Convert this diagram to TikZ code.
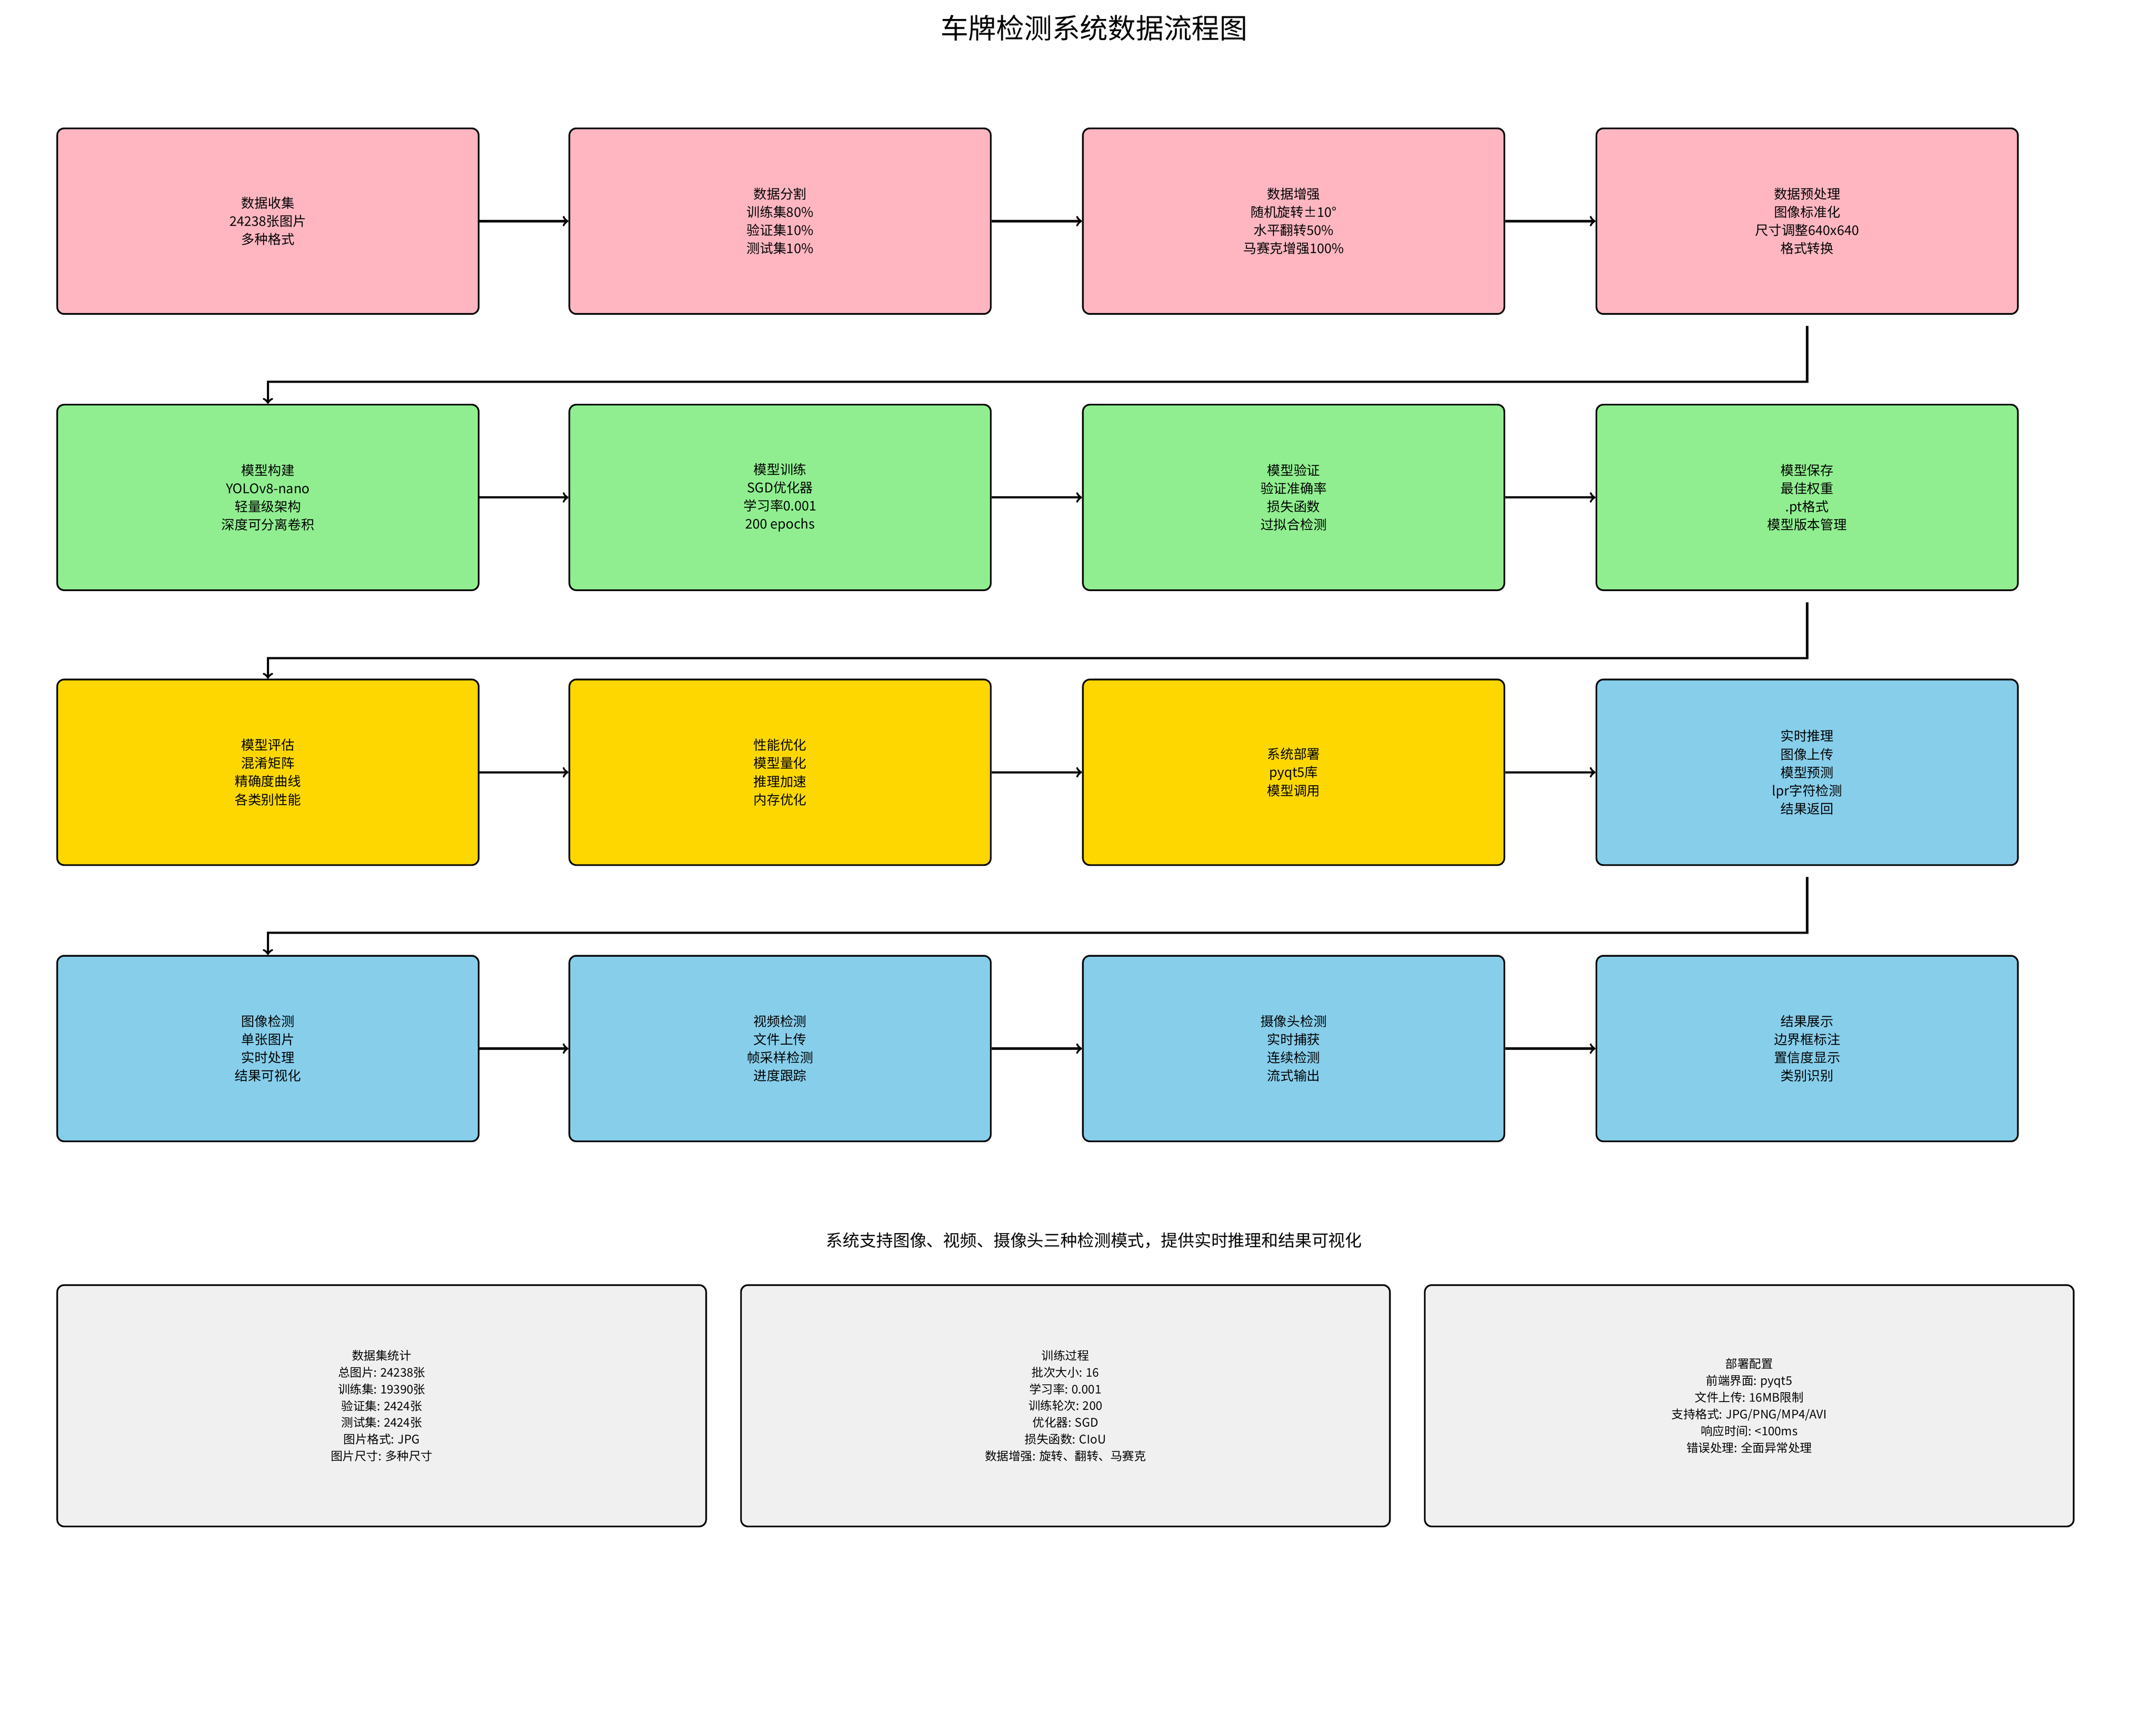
\documentclass[tikz,border=0pt]{standalone}
\usepackage{fontspec}
\setmainfont{Noto Sans CJK SC}
\usetikzlibrary{positioning}
\definecolor{dataPink}{HTML}{FFB6C1}
\definecolor{modelGreen}{HTML}{90EE90}
\definecolor{evalGold}{HTML}{FFD700}
\definecolor{runBlue}{HTML}{87CEEB}
\definecolor{infoGray}{HTML}{F0F0F0}
\tikzset{
  stepbox/.style={draw,line width=1.2pt,rounded corners=5pt,minimum width=302pt,minimum height=133pt,
    align=center,font=\fontsize{9.5}{13}\selectfont,inner sep=0pt},
  infobox/.style={draw,line width=1.2pt,rounded corners=5pt,minimum width=465pt,minimum height=173pt,
    align=center,font=\fontsize{8.5}{12}\selectfont,fill=infoGray,inner sep=0pt},
  flow/.style={->,line width=1.6pt}
}
\begin{document}
\begin{tikzpicture}[x=1pt,y=-1pt]
 \useasboundingbox (0,0) rectangle (1545,1234);
 \node[font=\fontsize{20}{24}\selectfont,name=title] at (784,20) {车牌检测系统数据流程图};

 \node[stepbox,fill=dataPink,  name=Collect ] at (192,158.5) {数据收集\\24238张图片\\多种格式};
 \node[stepbox,fill=dataPink,  name=Split   ] at (559,158.5) {数据分割\\训练集80\%\\验证集10\%\\测试集10\%};
 \node[stepbox,fill=dataPink,  name=Augment ] at (927,158.5) {数据增强\\随机旋转±10°\\水平翻转50\%\\马赛克增强100\%};
 \node[stepbox,fill=dataPink,  name=Prep    ] at (1295,158.5) {数据预处理\\图像标准化\\尺寸调整640x640\\格式转换};

 \node[stepbox,fill=modelGreen,name=Build   ] at (192,356.5) {模型构建\\YOLOv8-nano\\轻量级架构\\深度可分离卷积};
 \node[stepbox,fill=modelGreen,name=Train   ] at (559,356.5) {模型训练\\SGD优化器\\学习率0.001\\200 epochs};
 \node[stepbox,fill=modelGreen,name=Valid   ] at (927,356.5) {模型验证\\验证准确率\\损失函数\\过拟合检测};
 \node[stepbox,fill=modelGreen,name=Save    ] at (1295,356.5) {模型保存\\最佳权重\\.pt格式\\模型版本管理};

 \node[stepbox,fill=evalGold,  name=Eval    ] at (192,553.5) {模型评估\\混淆矩阵\\精确度曲线\\各类别性能};
 \node[stepbox,fill=evalGold,  name=Optim   ] at (559,553.5) {性能优化\\模型量化\\推理加速\\内存优化};
 \node[stepbox,fill=evalGold,  name=Deploy  ] at (927,553.5) {系统部署\\pyqt5库\\模型调用};
 \node[stepbox,fill=runBlue,   name=Infer   ] at (1295,553.5) {实时推理\\图像上传\\模型预测\\lpr字符检测\\结果返回};

 \node[stepbox,fill=runBlue,   name=ImgDet  ] at (192,751.5) {图像检测\\单张图片\\实时处理\\结果可视化};
 \node[stepbox,fill=runBlue,   name=VidDet  ] at (559,751.5) {视频检测\\文件上传\\帧采样检测\\进度跟踪};
 \node[stepbox,fill=runBlue,   name=CamDet  ] at (927,751.5) {摄像头检测\\实时捕获\\连续检测\\流式输出};
 \node[stepbox,fill=runBlue,   name=Show    ] at (1295,751.5) {结果展示\\边界框标注\\置信度显示\\类别识别};

 \draw[flow] (Collect) -- (Split);  \draw[flow] (Split) -- (Augment);  \draw[flow] (Augment) -- (Prep);
 \draw[flow] (Build)   -- (Train);  \draw[flow] (Train) -- (Valid);    \draw[flow] (Valid)   -- (Save);
 \draw[flow] (Eval)    -- (Optim);  \draw[flow] (Optim) -- (Deploy);   \draw[flow] (Deploy)  -- (Infer);
 \draw[flow] (ImgDet)  -- (VidDet); \draw[flow] (VidDet) -- (CamDet);  \draw[flow] (CamDet)  -- (Show);
 \draw[flow] ([yshift=-8pt]Prep.south)  -- ++(0,40) -| (Build.north);
 \draw[flow] ([yshift=-8pt]Save.south)  -- ++(0,40) -| (Eval.north);
 \draw[flow] ([yshift=-8pt]Infer.south) -- ++(0,40) -| (ImgDet.north);

 \node[font=\fontsize{12}{14}\selectfont,name=caption] at (784,889) {系统支持图像、视频、摄像头三种检测模式，提供实时推理和结果可视化};
 \node[infobox,name=DataStat ] at (273.5,1007.5) {数据集统计\\总图片: 24238张\\训练集: 19390张\\验证集: 2424张\\测试集: 2424张\\图片格式: JPG\\图片尺寸: 多种尺寸};
 \node[infobox,name=TrainProc] at (763.5,1007.5) {训练过程\\批次大小: 16\\学习率: 0.001\\训练轮次: 200\\优化器: SGD\\损失函数: CIoU\\数据增强: 旋转、翻转、马赛克};
 \node[infobox,name=DeployCfg] at (1253.5,1007.5) {部署配置\\前端界面: pyqt5\\文件上传: 16MB限制\\支持格式: JPG/PNG/MP4/AVI\\响应时间: <100ms\\错误处理: 全面异常处理};
\end{tikzpicture}
\end{document}
